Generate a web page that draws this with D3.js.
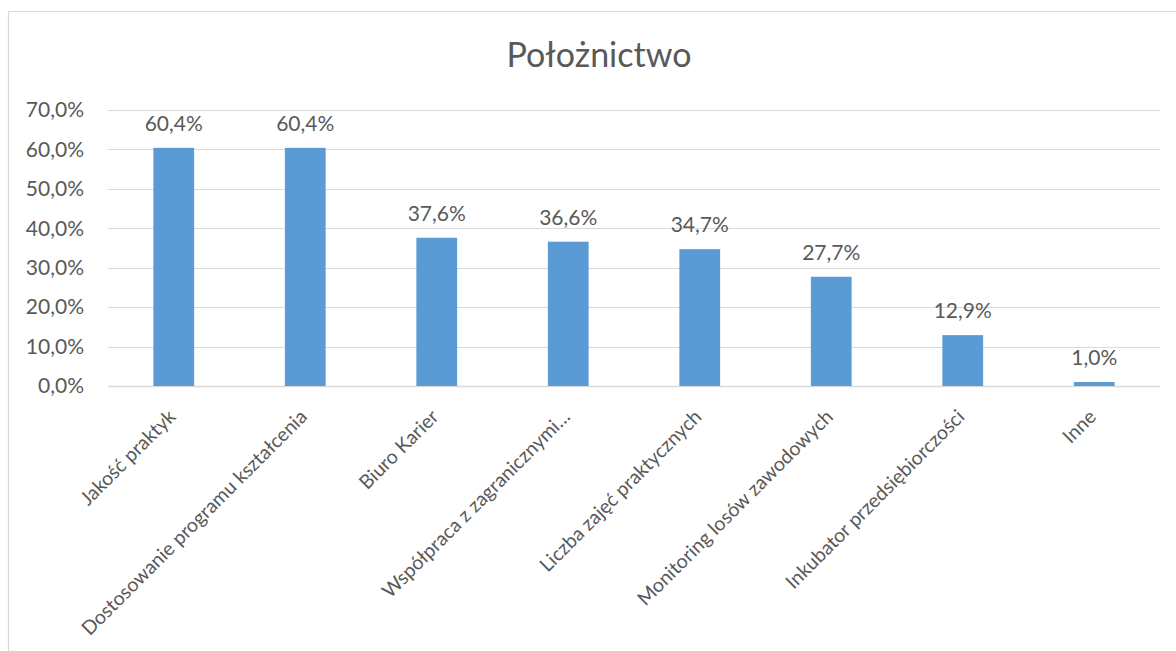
<!DOCTYPE html>
<html>
<head>
<meta charset="utf-8">
<script src="https://cdn.jsdelivr.net/npm/d3@7"></script>
<style>
  html, body { margin: 0; padding: 0; background: #fff; }
  svg { display: block; }
  text { font-family: Lato, "Open Sans", sans-serif; fill: #595959; }
</style>
</head>
<body>
<svg id="chart" width="1176" height="651"></svg>
<script>
const title = "Położnictwo";
const categories = [
  "Jakość praktyk",
  "Dostosowanie programu kształcenia",
  "Biuro Karier",
  "Współpraca z zagranicznymi…",
  "Liczba zajęć praktycznych",
  "Monitoring losów zawodowych",
  "Inkubator przedsiębiorczości",
  "Inne"
];
const values = [0.604, 0.604, 0.376, 0.366, 0.347, 0.277, 0.129, 0.010];
const yTicks = [0, 0.1, 0.2, 0.3, 0.4, 0.5, 0.6, 0.7];

const plLocale = d3.formatLocale({decimal: ",", thousands: " ", grouping: [3], currency: ["", " zł"]});
const fmt = plLocale.format(".1%");

const svg = d3.select("#chart");
const W = 1176, H = 651;
const plot = {left: 108, right: 1160, top: 110, bottom: 386};

// chart frame (only top and left edges visible)
svg.append("path")
  .attr("d", `M8.5,${H} L8.5,11.5 L${W},11.5`)
  .attr("fill", "none")
  .attr("stroke", "#D9D9D9")
  .attr("stroke-width", 1.2);

const x = d3.scaleBand()
  .domain(categories)
  .range([plot.left, plot.right])
  .paddingInner(0.69)
  .paddingOuter(0.345);

const y = d3.scaleLinear()
  .domain([0, 0.7])
  .range([plot.bottom, plot.top]);

// gridlines
svg.append("g")
  .selectAll("line")
  .data(yTicks)
  .join("line")
  .attr("x1", plot.left)
  .attr("x2", plot.right)
  .attr("y1", d => Math.round(y(d)) + 0.5)
  .attr("y2", d => Math.round(y(d)) + 0.5)
  .attr("stroke", "#D9D9D9")
  .attr("stroke-width", d => d === 0 ? 1.6 : 1.2);

// y axis labels
const yAxis = d3.axisLeft(y).tickValues(yTicks).tickFormat(fmt).tickSize(0).tickPadding(0);
const gy = svg.append("g")
  .attr("transform", `translate(84,0)`)
  .call(yAxis);
gy.select(".domain").remove();
gy.selectAll("text")
  .style("font-family", "Lato, sans-serif")
  .style("font-size", "21px")
  .attr("fill", "#595959");

// bars
svg.append("g")
  .selectAll("rect")
  .data(values)
  .join("rect")
  .attr("x", (d, i) => x(categories[i]))
  .attr("width", x.bandwidth())
  .attr("y", d => y(d))
  .attr("height", d => y(0) - y(d))
  .attr("fill", "#5B9BD5");

// data labels
svg.append("g")
  .selectAll("text")
  .data(values)
  .join("text")
  .attr("x", (d, i) => x(categories[i]) + x.bandwidth() / 2)
  .attr("y", d => y(d) - 17)
  .attr("text-anchor", "middle")
  .style("font-size", "21px")
  .text(d => fmt(d));

// x axis labels (rotated)
svg.append("g")
  .selectAll("text")
  .data(categories)
  .join("text")
  .attr("transform", d => `translate(${x(d) + x.bandwidth() / 2 + 3},418) rotate(-45)`)
  .attr("text-anchor", "end")
  .style("font-size", "19.5px")
  .text(d => d);

// title
svg.append("text")
  .attr("x", 599)
  .attr("y", 67)
  .attr("text-anchor", "middle")
  .style("font-size", "34px")
  .text(title);
</script>
</body>
</html>
